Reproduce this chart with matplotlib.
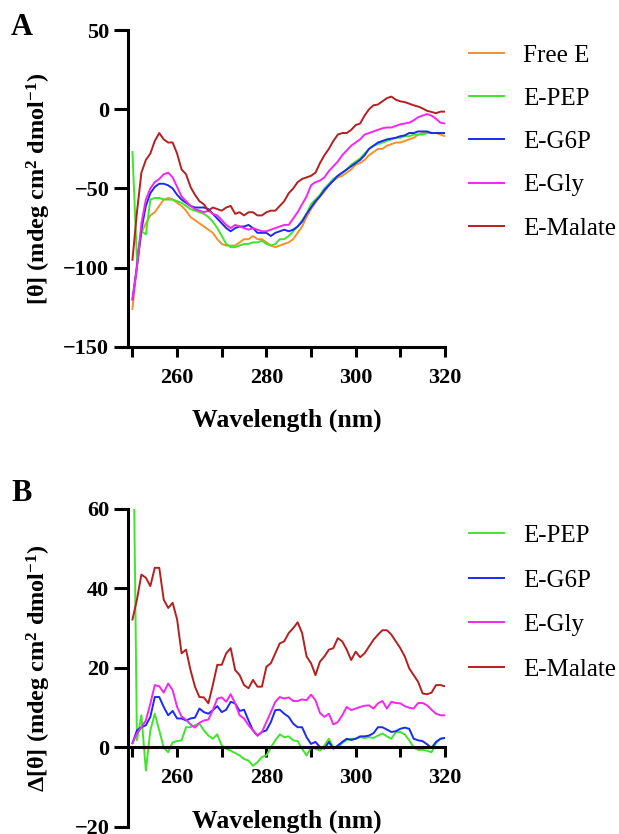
import numpy as np
import matplotlib
matplotlib.use("Agg")
import matplotlib.pyplot as plt
from matplotlib.ticker import MultipleLocator

plt.rcParams["font.family"] = ["Liberation Serif", "DejaVu Serif"]
plt.rcParams["mathtext.fontset"] = "custom"
plt.rcParams["mathtext.rm"] = "Liberation Serif:bold"
plt.rcParams["mathtext.it"] = "Liberation Serif:bold"
plt.rcParams["mathtext.bf"] = "Liberation Serif:bold"

wl = np.arange(250, 321)

# panel A: CD spectra
free_e = [-126, -99, -78, -72, -67, -65, -61, -57, -56, -57,
          -59, -61, -64, -68, -70, -72, -74, -76, -78, -82,
          -85, -86, -86, -86, -84, -82, -82, -80, -82, -82,
          -84, -86, -87, -86, -85, -84, -82, -78, -74, -68,
          -63, -59, -55, -52, -48, -45, -43, -42, -40, -38,
          -35, -34, -32, -29, -27, -25, -25, -23, -22, -21,
          -21, -20, -19, -18, -16, -15, -15, -15, -15, -16, -17]
e_pep = [-27, -95, -77, -79, -57, -56, -56, -57, -57, -57,
         -58, -59, -61, -63, -64, -65, -66, -68, -71, -75,
         -80, -85, -87, -87, -86, -85, -85, -84, -84, -83,
         -85, -86, -85, -82, -82, -80, -77, -74, -70, -66,
         -60, -57, -54, -50, -47, -44, -42, -40, -38, -35,
         -33, -31, -28, -25, -23, -22, -21, -20, -19, -18,
         -18, -17, -17, -16, -16, -16, -15, -15, -15, -15, -15]
e_g6p = [-120, -99, -76, -61, -53, -49, -47, -47, -48, -50,
         -54, -57, -59, -61, -62, -62, -62, -63, -66, -69,
         -72, -75, -77, -75, -74, -74, -73, -75, -78, -78,
         -78, -80, -78, -77, -76, -77, -76, -74, -71, -66,
         -62, -58, -55, -51, -48, -45, -42, -40, -38, -36,
         -34, -32, -29, -25, -23, -21, -20, -19, -18.5, -18,
         -17, -16.5, -15, -15, -14, -14, -14, -15, -15, -15, -15]
e_gly = [-120, -100, -72, -57, -50, -46, -44, -41, -40, -43,
         -49, -55, -58, -61, -63, -64, -65, -64, -66, -67,
         -70, -73, -75, -73, -74, -75, -76, -75, -76, -77,
         -77, -76, -75, -74, -73, -73, -69, -65, -60, -55,
         -48, -46, -45, -43, -39, -36, -33, -29, -26, -23,
         -21, -19, -16, -15, -14, -13, -12, -11.5, -11.5, -10.5,
         -9.5, -9, -8.5, -7, -5, -4, -3, -4, -6, -8.5, -9]
e_malate = [-95, -65, -40, -32, -28, -20, -15, -19, -21, -21,
            -28, -38, -41, -49, -54, -58, -60, -64, -62, -63,
            -64, -62, -61, -66, -65, -67, -65, -65, -67, -67,
            -65, -64, -64, -61, -58, -53, -50, -46, -44, -43,
            -42, -40, -34, -29, -25, -20, -16, -15, -15, -13,
            -10, -9, -4, 0, 2.5, 3, 5, 7, 8, 6,
            5, 4.5, 3.5, 2.5, 1.7, 0.5, -1, -1.7, -2.5, -1.5, -1.5]

# panel B: difference spectra
d_pep = [99, 1.8, 8.1, -5.8, 4.3, 8.5, 4.3, 0, -1.2, 1.3,
         1.6, 1.8, 5.1, 5.1, 5.6, 6, 4.3, 3, 2.2, 3.3,
         0.5, -0.3, -0.8, -1.4, -2, -2.9, -3.3, -4.6, -3.7, -2.4,
         -2, 0, 1.8, 3.3, 2.6, 2.8, 1.8, 1.6, -0.3, -2,
         0, -0.3, -0.8, 0.5, 2.2, 0, 0, 1.1, 1.9, 2.2,
         2.2, 2.6, 2.4, 2.6, 2.4, 3, 3.5, 2.8, 2.2, 3.9,
         3.9, 3.3, 1.8, 0, -0.6, -0.6, -0.8, -1.2, 1.1, 2.2, 2.4]
d_g6p = [1.1, 4.3, 5.1, 5.6, 7.7, 12.7, 12.7, 10.2, 8.1, 9.2,
         7.3, 7.3, 6.8, 7.3, 7.5, 9.8, 8.9, 8.5, 9.4, 10.4,
         8.9, 9.5, 11.5, 11.1, 9.2, 9.5, 6.8, 4.3, 3, 3.9,
         4.3, 6.4, 9.4, 9.5, 8.5, 7.7, 6, 5.1, 5.1, 2.6,
         0.9, 1.4, 0.1, -0.3, 1.4, -0.3, 0.5, 1.4, 2.2, 1.9,
         2.2, 2.8, 2.8, 3, 3.6, 5.1, 5.1, 4.5, 3.9, 4.1,
         4.7, 5, 4.7, 2.2, 1.8, 1.6, 0.8, -0.1, 1.4, 2.2, 2.4]
d_gly = [1.1, 3.5, 5.1, 6.8, 11, 15.7, 15.4, 13.8, 16.1, 14.4,
         10.2, 7.8, 7, 5.8, 5, 6.2, 6.8, 7, 9.4, 12.3,
         12.6, 11.5, 13.4, 11.1, 8.1, 7.3, 5.6, 4.3, 3, 3.9,
         6.4, 8.9, 11.5, 12.7, 12.3, 12.6, 11.7, 11.7, 12.1, 11.9,
         13.3, 11.9, 8.7, 7.7, 8.5, 5.8, 6.4, 8.1, 10.2, 9.4,
         9.8, 10.2, 10.5, 10.6, 9.8, 11.1, 11.7, 9.8, 11.5, 11.2,
         11.1, 10.4, 10, 9.8, 11.2, 11.2, 10.6, 9.5, 8.5, 8.1, 8.1]
d_malate = [32.2, 37.2, 43.5, 42.7, 40.6, 45.2, 45.2, 37.2, 35.1, 36.4,
            32.2, 23.7, 24.6, 19.5, 15.3, 12.7, 12.6, 11.1, 15.7, 20.8,
            20.8, 23.7, 25, 19.5, 18.2, 15.7, 14.9, 17, 15.3, 15.3,
            20.3, 21.2, 23.7, 26.2, 26.7, 28.8, 30, 31.5, 28.8, 22.9,
            21.2, 18.2, 21.6, 22.9, 24.6, 25, 27.5, 26.7, 24.6, 22,
            24.1, 22.7, 23.7, 25.4, 27.1, 28.4, 29.5, 29.5, 28.4, 26.7,
            25, 22.9, 19.9, 18.2, 16.5, 13.6, 13.4, 13.8, 15.7, 15.7, 15.4]

c_free = "#f7902a"
c_pep = "#3ee62a"
c_g6p = "#1a2bf5"
c_gly = "#f526f0"
c_mal = "#b5201f"

fig = plt.figure(figsize=(6.19, 8.34), dpi=100)
axA = fig.add_axes([0.2068, 0.584, 0.512, 0.380])
axB = fig.add_axes([0.2068, 0.0084, 0.512, 0.3813])

lw = 1.4
axA.plot(wl, free_e, color=c_free, lw=lw, label="Free E")
axA.plot(wl, e_pep, color=c_pep, lw=lw, label="E-PEP")
axA.plot(wl, e_g6p, color=c_g6p, lw=lw, label="E-G6P")
axA.plot(wl, e_gly, color=c_gly, lw=lw, label="E-Gly")
axA.plot(wl, e_malate, color=c_mal, lw=lw, label="E-Malate")

axB.plot(wl, d_pep, color=c_pep, lw=lw, label="E-PEP")
axB.plot(wl, d_g6p, color=c_g6p, lw=lw, label="E-G6P")
axB.plot(wl, d_gly, color=c_gly, lw=lw, label="E-Gly")
axB.plot(wl, d_malate, color=c_mal, lw=lw, label="E-Malate")

for ax in (axA, axB):
    ax.set_xlim(249, 320)
    ax.spines["top"].set_visible(False)
    ax.spines["right"].set_visible(False)
    for s in ("left", "bottom"):
        ax.spines[s].set_linewidth(2.2)
    ax.xaxis.set_major_locator(MultipleLocator(20))
    ax.xaxis.set_minor_locator(MultipleLocator(10))
    ax.tick_params(axis="x", which="both", length=7, width=2.2, direction="out", pad=8.5)
    ax.tick_params(axis="y", length=10, width=2.2, direction="out")
    ax.tick_params(labelsize=16)
    ax.set_xlabel("Wavelength (nm)", fontsize=18.5, fontweight="bold")

axA.set_ylim(-150, 50)
axA.set_yticks([-150, -100, -50, 0, 50])
axA.set_xticks([260, 280, 300, 320])
axA.set_ylabel(r"[θ] (mdeg cm$^2$ dmol$^{-1}$)", fontsize=17.5, fontweight="bold")
axA.yaxis.set_label_coords(-0.237, 0.5)
axA.xaxis.set_label_coords(0.5, -0.195)

axB.set_ylim(-20, 60)
axB.set_yticks([-20, 0, 20, 40, 60])
axB.set_xticks([260, 280, 300, 320])
axB.spines["bottom"].set_position(("data", 0))
axB.tick_params(axis="x", pad=7.5)
axB.set_ylabel(r"Δ[θ] (mdeg cm$^2$ dmol$^{-1}$)", fontsize=17.5, fontweight="bold")
axB.yaxis.set_label_coords(-0.237, 0.5)
axB.xaxis.set_label_coords(0.5, 0.056)
for t in axA.get_xticklabels() + axA.get_yticklabels() + axB.get_xticklabels() + axB.get_yticklabels():
    t.set_fontweight("bold")

legA = fig.legend(handles=axA.get_lines(), loc="upper left", bbox_to_anchor=(0.758, 0.947),
                  frameon=False, fontsize=18, handlelength=1.4, handletextpad=0.76,
                  labelspacing=0.83, borderpad=0, borderaxespad=0)
legB = fig.legend(handles=axB.get_lines(), loc="upper left", bbox_to_anchor=(0.758, 0.371),
                  frameon=False, fontsize=18, handlelength=1.4, handletextpad=0.76,
                  labelspacing=0.88, borderpad=0, borderaxespad=0)

fig.text(0.018, 0.985, "A", fontsize=22, fontweight="bold", va="top")
fig.text(0.018, 0.426, "B", fontsize=22, fontweight="bold", va="top")

fig.savefig("out.png", dpi=100)
